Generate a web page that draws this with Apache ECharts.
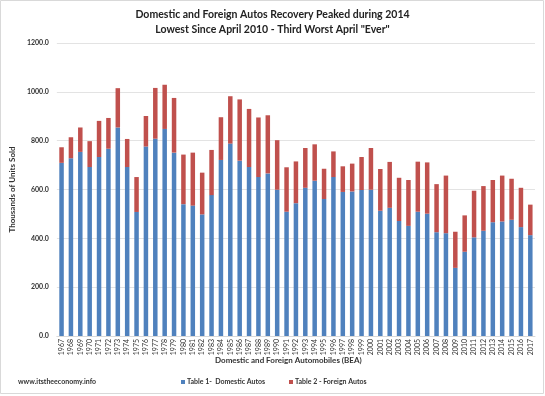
<!DOCTYPE html>
<html><head><meta charset="utf-8">
<script src="https://cdn.jsdelivr.net/npm/echarts@6/dist/echarts.min.js"></script>
<style>html,body{margin:0;padding:0;background:#fff}#c{width:545px;height:396px}</style>
</head><body><div id="c"></div>
<script>
const years = ['1967','1968','1969','1970','1971','1972','1973','1974','1975','1976','1977','1978','1979','1980','1981','1982','1983','1984','1985','1986','1987','1988','1989','1990','1991','1992','1993','1994','1995','1996','1997','1998','1999','2000','2001','2002','2003','2004','2005','2006','2007','2008','2009','2010','2011','2012','2013','2014','2015','2016','2017'];
const domestic = [709,728,754,692,733,767,854,692,508,776,808,848,751,540,534,498,577,721,788,718,692,651,666,599,509,544,607,636,561,651,590,592,598,599,513,525,471,451,509,501,425,421,279,345,404,431,466,469,476,446,413];
const foreign = [64,86,100,106,148,126,161,115,143,125,208,181,224,203,217,171,185,175,194,251,238,244,238,203,182,171,163,149,124,105,105,114,135,171,171,188,177,188,205,210,197,236,148,149,191,183,173,188,168,161,125];
const yTicks = [0,200,400,600,800,1000,1200];
const F = 'Lato, "Open Sans", sans-serif';
const chart = echarts.init(document.getElementById('c'));
chart.setOption({
  animation:false,
  title:{text:'Domestic and Foreign Autos Recovery Peaked during 2014\nLowest Since April 2010 - Third Worst April "Ever"',
    left:'center', top:7, padding:0,
    textStyle:{fontFamily:F,fontSize:10.5,fontWeight:'bold',color:'#222',lineHeight:15}},
  grid:{left:49,right:10,top:43,bottom:60},
  legend:{show:false},
  xAxis:{type:'category',data:years,
    axisLine:{lineStyle:{color:'#d9d9d9'}},axisTick:{show:false},
    axisLabel:{rotate:90,interval:0,fontFamily:F,fontSize:7,color:'#333',margin:3}},
  yAxis:{type:'value',min:yTicks[0],max:yTicks[yTicks.length-1],interval:200,
    name:'Thousands of Units Sold',nameLocation:'middle',nameGap:27,
    nameTextStyle:{fontFamily:F,fontSize:8,fontWeight:'bold',color:'#333'},
    axisLabel:{formatter:v=>v.toFixed(1),fontFamily:F,fontSize:7,fontWeight:'bold',color:'#333',margin:8},
    splitLine:{lineStyle:{color:'#e3e3e3'}},axisLine:{show:false},axisTick:{show:false}},
  series:[
    {name:'Table 1-  Domestic Autos',type:'bar',stack:'a',data:domestic,barCategoryGap:'52%',itemStyle:{color:'#4f81bd'}},
    {name:'Table 2 - Foreign Autos',type:'bar',stack:'a',data:foreign,itemStyle:{color:'#c0504d'}}
  ],
  graphic:[
    {type:'rect',shape:{x:0.5,y:0.5,width:543,height:393},style:{fill:'none',stroke:'#d9d9d9',lineWidth:1},silent:true},
    {type:'text',left:215,top:356,style:{text:'Domestic and Foreign Automobiles (BEA)',fontFamily:F,fontSize:8,fontWeight:'bold',fill:'#333'}},
    {type:'text',left:18,top:378,style:{text:'www.itstheeconomy.info',fontFamily:F,fontSize:7,fontWeight:'bold',fill:'#333'}},
    {type:'rect',shape:{x:181,y:380,width:4,height:4},style:{fill:'#4f81bd'}},
    {type:'text',left:187,top:378,style:{text:'Table 1-  Domestic Autos',fontFamily:F,fontSize:7,fontWeight:'bold',fill:'#333'}},
    {type:'rect',shape:{x:289,y:380,width:4,height:4},style:{fill:'#c0504d'}},
    {type:'text',left:295,top:378,style:{text:'Table 2 - Foreign Autos',fontFamily:F,fontSize:7,fontWeight:'bold',fill:'#333'}}
  ]
});
</script></body></html>
